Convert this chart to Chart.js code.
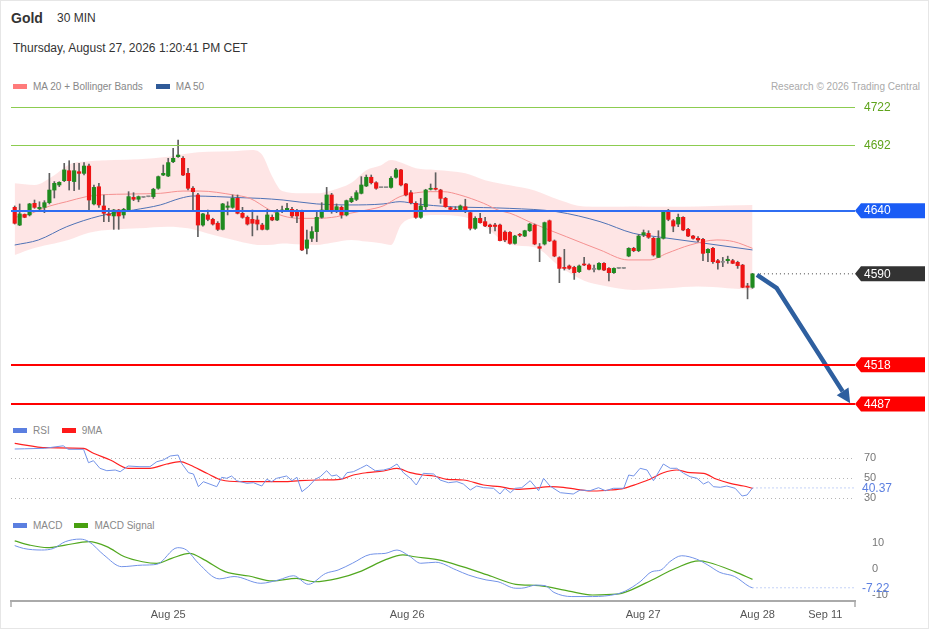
<!DOCTYPE html>
<html>
<head>
<meta charset="utf-8">
<script src="https://cdn.jsdelivr.net/npm/chart.js@4.4.1/dist/chart.umd.min.js"></script>
<style>
html, body { margin: 0; padding: 0; background: #fff; }
#page { position: relative; width: 929px; height: 629px; overflow: hidden; font-family: "Liberation Sans", Arial, sans-serif; }
#frame { position: absolute; left: 0; top: 0; width: 929px; height: 629px; box-sizing: border-box; border: 1px solid #e6e6e6; pointer-events: none; }
.t { position: absolute; white-space: nowrap; line-height: 1; }
.sw { display: inline-block; width: 14px; height: 5px; vertical-align: middle; margin-right: 6px; position: relative; top: -1px; }
canvas { position: absolute; left: 0; }
</style>
</head>
<body>
<div id="page">
  <div class="t" style="left:11px;top:11px;font-size:14px;font-weight:bold;color:#333">Gold</div>
  <div class="t" style="left:57px;top:12px;font-size:12px;color:#333">30 MIN</div>
  <div class="t" style="left:13px;top:42px;font-size:12px;color:#333">Thursday, August 27, 2026 1:20:41 PM CET</div>
  <div class="t" style="left:13px;top:82px;font-size:10px;color:#888"><span class="sw" style="background:#ff7b7b"></span>MA 20 + Bollinger Bands<span class="sw" style="background:#2f5a98;margin-left:13px"></span>MA 50</div>
  <div class="t" style="right:9px;top:82px;font-size:10px;color:#aaa">Research © 2026 Trading Central</div>
  <canvas id="main" width="929" height="320" style="top:95px"></canvas>
  <div class="t" style="left:13px;top:426px;font-size:10px;color:#888"><span class="sw" style="background:#5b7fe0"></span>RSI<span class="sw" style="background:#ff1a1a;margin-left:12px"></span>9MA</div>
  <canvas id="rsi" width="929" height="70" style="top:438px"></canvas>
  <div class="t" style="left:13px;top:521px;font-size:10px;color:#888"><span class="sw" style="background:#5b7fe0"></span>MACD<span class="sw" style="background:#48a010;margin-left:12px"></span>MACD Signal</div>
  <canvas id="macd" width="929" height="99" style="top:530px"></canvas>
  <div id="frame"></div>
</div>
<script>
// candles (30 min bars, index 0..149)
const opens = [
  4642.6,4628.6,4637,4636.6,4645.8,4641.5,4642.6,4646.3,4656.3,4660.3,
  4663.7,4671.6,4663,4670.8,4669.5,4675.3,4645.3,4658.9,4643.7,4637.4,
  4635.8,4640.5,4636.6,4640.5,4650.5,4649,4650.5,4651,4651.1,4657.7,
  4668.2,4667.4,4678.7,4682.7,4681.4,4669.5,4657.7,4652.4,4628.6,4636.6,
  4633.1,4630,4625.2,4642.6,4642.6,4649.7,4637.9,4634.7,4633.1,4632.6,
  4628.6,4625.2,4634.7,4632.6,4639.2,4640.5,4641,4640,4639.2,4610.2,
  4618.1,4623.4,4634.7,4640,4652.4,4640,4642.6,4636.6,4647.1,4648.9,
  4653.7,4659.5,4666.4,4662.1,4658.2,4658.2,4658.4,4666.4,4672.2,4661.1,
  4654.2,4645.8,4634.7,4643.1,4656.9,4657.7,4656.3,4649.7,4642.4,4641,
  4640,4643.1,4638.4,4626,4633.9,4631.3,4628.6,4628.6,4628.6,4623,
  4622.8,4614.1,4620.7,4619.9,4624.1,4628.6,4611.5,4613.6,4632,4616,
  4602.8,4594.5,4596.2,4595.1,4591.7,4597.8,4597,4593.5,4593.6,4598.3,
  4594.3,4590.9,4594.3,4594.3,4604.1,4610.2,4608.3,4620.7,4622,4618.1,
  4603,4618.1,4639.2,4632,4629.4,4634.7,4625.2,4619.9,4618.1,4617.3,
  4606.7,4610.2,4600.4,4599.1,4600.4,4600.4,4599.1,4596.9,4580.4,4579.3
];
const highs = [
  4643.7,4645.3,4637.4,4645.8,4648.4,4647,4647.9,4669.5,4663,4662.9,
  4677.4,4679.5,4677.4,4677.4,4678,4676.9,4660.3,4661.6,4652.4,4641.8,
  4641,4641,4641.8,4655,4654.2,4651.6,4650.5,4651,4657.7,4667.4,
  4676.1,4681.4,4689.3,4695.9,4682.7,4673.5,4659,4653.7,4637.9,4640.5,
  4634,4631.3,4645.8,4647,4652.4,4652.4,4642.6,4635.8,4640.5,4635.8,
  4630,4641,4636.6,4641,4643.7,4645.8,4642.6,4641,4640.5,4624.7,
  4627.3,4639.2,4646.3,4658.4,4653.7,4645.3,4643.7,4648.4,4651.1,4655.8,
  4666.9,4668.2,4668.2,4662.9,4658.2,4658.2,4666.9,4673.5,4672.7,4661.6,
  4655.8,4647.1,4649.7,4656.9,4661.1,4670,4656.9,4650.5,4643.1,4643.1,
  4644.5,4649,4639.2,4635.2,4637.9,4634.7,4629.4,4630,4629.4,4624,
  4623.5,4620.5,4622,4624.5,4630,4629.4,4614,4631,4632.6,4616.8,
  4603.5,4609.4,4597,4596,4597,4603,4598,4597,4599,4599,
  4595,4594.8,4594.3,4594.3,4610.7,4611,4621,4624.7,4624.1,4619,
  4624.1,4639.5,4641,4633,4637.3,4635.2,4626,4620.5,4619.4,4618,
  4610,4611,4601.5,4603,4604,4601.5,4600,4597.5,4582.5,4590.4
];
const lows = [
  4629.4,4628.1,4634.4,4635.8,4641.8,4640.5,4638.4,4645.3,4650,4659,
  4662.9,4656.3,4655.8,4656.8,4668.2,4640.5,4644.5,4642.6,4631.3,4631.3,
  4625.2,4625.2,4634,4639.7,4647.9,4647,4650.5,4651,4649.7,4656.9,
  4667.7,4666.9,4678,4682.2,4667.7,4656.3,4639.2,4619.4,4627.8,4632,
  4628.6,4624.2,4624.7,4636.6,4641.8,4637.4,4634,4628.6,4620,4624.7,
  4624.7,4624.7,4632,4632,4638.4,4639.2,4634.7,4630.5,4608.3,4605.7,
  4615.5,4615.5,4634,4639.2,4637.9,4638.4,4634,4635.8,4646.3,4647.9,
  4653.2,4659,4661.1,4656.9,4658.2,4658.2,4657.7,4665.6,4659.5,4651.6,
  4645.3,4633.9,4633.9,4639.2,4656.3,4656.3,4645.8,4642.6,4640.5,4639.2,
  4639.2,4638.4,4624.7,4625.2,4630,4627.3,4622,4624,4616,4615.5,
  4613.5,4613.5,4619.4,4619.4,4623.5,4613,4599.6,4612.8,4615.5,4603.5,
  4583,4593,4593.5,4585.6,4591,4596.5,4593,4591.5,4593,4592.5,
  4584.3,4590.4,4594.3,4594.3,4603.5,4607.5,4607.5,4619.4,4618,4604,
  4603,4617.5,4632,4623.3,4627.3,4624.1,4619.4,4617.5,4615.5,4600.4,
  4599.6,4598.3,4593.6,4595.7,4598.3,4598,4594.3,4579,4570.2,4578.5
];
const closes = [
  4630,4637.4,4634.7,4645.3,4642.6,4642.6,4646.3,4656.3,4661.6,4662.4,
  4672.2,4663.7,4671.6,4669.5,4675.3,4648.4,4658.4,4644.5,4637.9,4636.3,
  4640.5,4635.8,4641,4651.1,4649,4651.1,4650.5,4651,4656.9,4666.9,
  4669.5,4678,4681.4,4684,4668.2,4657.7,4655,4628.6,4637.4,4633.1,
  4629.4,4625.2,4645.3,4643.7,4649.7,4637.9,4634.7,4629.4,4630,4629.4,
  4625.2,4636.6,4632.6,4638.4,4640.5,4641.8,4635.8,4635.8,4608.9,4616.8,
  4623.4,4634.7,4640.5,4652.4,4639.2,4643.1,4636.6,4647.9,4649.7,4654.2,
  4660.3,4666.4,4662.1,4657.7,4658.2,4658.2,4665.6,4672.2,4660.3,4652.4,
  4646.3,4634.7,4643.7,4656.3,4657.7,4656.9,4649.7,4643.1,4641,4639.7,
  4643.7,4639.2,4626,4633.9,4630.5,4627.9,4627.3,4627.5,4616.3,4616.8,
  4614.1,4619.9,4620.5,4624.1,4629.4,4613.6,4610.2,4630.5,4616,4604.1,
  4594.3,4594.3,4594.3,4590.9,4596.2,4597,4593.6,4593.5,4598.3,4593,
  4590.9,4594.3,4594.3,4594.3,4610.2,4608.3,4619.9,4622.6,4618.9,4604.9,
  4618.1,4639.2,4633.1,4627.8,4634.7,4624.7,4619.9,4618.1,4616.8,4606.2,
  4609.4,4599.6,4598.8,4599.1,4601.5,4598.3,4596.5,4579.3,4579.3,4590
];

// overlays (bar index, price)
const bbAt    = [0,4,8,11,15,20,25,31,35,39,44,48,50,52,54,58,61,64,68,71,74,76,78,81,85,91,95,100,105,110,115,119,125,132,138,144,149];
const bbUpper = [4661.6,4660.3,4668,4676.5,4679,4680,4680.6,4682.7,4685.3,4686.5,4687,4688,4684,4667,4655.5,4653.7,4653.7,4656,4662,4672,4676,4680,4678,4673.5,4672.2,4669.5,4664,4660,4656,4648.4,4643.2,4643,4643.2,4643,4643.2,4644,4644.5];
const bbLower = [4604.9,4610.5,4614,4617,4622.5,4625,4626,4627.3,4626,4622,4617,4613.5,4612.8,4613,4614,4613.2,4612.8,4614.5,4616.8,4615.5,4614.1,4612.8,4628.6,4634.7,4636.6,4634.7,4627,4613,4611,4596,4584.5,4580.5,4577.2,4578.6,4579.9,4578.6,4577.2];
const ma20At  = [0,2.4,7.1,10.5,14.5,17.2,24,29.4,34,37.4,44.2,47.5,51.5,54.2,57.6,61,65,67.7,71.1,74.4,77.8,81.2,83.9,86.6,89.9,94.7,97.9,100,104.6,111.4,118.2,123.9,128.3,131.7,136.4,141.8,145.2,149];
const ma20Val = [4634.7,4636.6,4643.7,4647.1,4651.1,4652.4,4653.2,4653.7,4655.5,4655.5,4652.4,4649.7,4640.5,4635.8,4633.9,4633.9,4635.2,4637.9,4640.5,4643.7,4651.1,4654.2,4655,4655,4652.4,4645.8,4640,4638,4630,4619.4,4608.9,4601,4601,4606.2,4612.8,4616.8,4615.5,4610.2];
const ma50At  = [0,4.8,10.5,17.2,24,29.4,33.4,36.1,40.8,45.5,49.6,54.2,61,67.7,74.4,77.8,81.2,87.9,94.7,100,109.4,118.2,124.9,129.6,138.4,149];
const ma50Val = [4612.8,4616.8,4627.3,4635.8,4640.5,4644.5,4649.7,4651.6,4651.1,4650.3,4649.7,4648.4,4645.3,4644.5,4645.3,4647.1,4645.3,4643.1,4642.4,4641.8,4639.2,4631.3,4622.1,4619.4,4614.7,4608.9];

// key levels and forecast arrow
const resistLevels = [4722, 4692];
const pivotLevels = [4640];
const supportLevels = [4518, 4487];
const arrowAt  = [149.9, 153.9, 167.2];
const arrowVal = [4589.2, 4578.6, 4497];

// RSI panel
const rsiAt  = [0,2,6,9.8,10.8,13.9,14.9,15.9,17.2,18.6,20.3,21.3,22.9,25.3,27.3,28.7,30,31.4,33,33.7,35.1,36.1,37.1,38.1,40.8,41.8,42.8,43.8,44.8,46.9,48.2,49.9,50.9,51.9,52.9,54.9,56,57,58,59.3,60.7,61.7,63,64,65,66.1,67.1,68.4,69.8,71.1,72.8,74.5,75.8,77.2,78.5,79.9,81.1,82.5,84.6,85.9,87.6,89.3,90.6,92,93.3,94.7,96.7,98,99,100.1,101.1,102.4,104.1,105.8,106.8,108.1,110.2,112.8,114.2,116.2,117.9,119.3,120.9,123,124,125,126.3,127.7,129,131,132.4,133.7,135.1,136.4,137.8,139.1,140.1,141.1,142.5,143.8,145.5,146.9,147.9,149];
const rsiVal = [79.3,79.5,80,82.5,79,79,65.6,67.6,60,57.6,58.3,56.6,62.3,61.6,61.6,66.6,68.3,72.3,73.3,65,55.6,54.3,41.6,46.6,41.6,51,50,52.3,47.6,45,45.6,42.3,49,46.6,50,52.3,47.6,51,36.6,41.6,49,51.6,57.6,52.3,53.3,49,55.6,56.6,60,63.3,57.6,58.3,60,64.3,55.6,50,43.3,55,54.3,48.3,45.6,46.6,44.3,38.3,42.3,40.6,40,34.3,40,35.6,40,40.6,47.6,37.6,50,42.3,35.6,34.3,38.3,37.6,40.6,37.6,40,40,53.3,52.3,60,58.3,47.6,64.3,60,60,55,51.6,50,44.3,46.6,41.6,41,42.3,40,32.3,33.3,40.37];
const maAt  = [0,6.5,13.9,15.9,19.3,22.9,27.3,30.7,33.4,35.4,38.8,41.8,45.5,50.9,54.3,57.6,61.7,65.7,68.4,71.1,74.5,77.2,79.9,82.5,84.6,87.3,90.6,94.7,98,101.4,104.7,108.1,110.8,113.5,116.9,120.3,123,125.7,128.3,131,133.7,136.4,139.1,141.8,144.5,147.2,149];
const maVal = [85,80.6,80,75,68.3,60,60,64.3,66.6,63.3,55,48.3,46.6,46.6,46.6,47.6,48.3,49,53.3,55.6,57.3,60,55.6,53.3,52.3,49,48.3,43.3,41.6,39,40,41.6,41,39,37.3,38.3,40,44.3,49,55.6,58.3,55.6,55,49,45,42.3,40];
const rsiTicks = [30, 50, 70];

// MACD panel
const macdAt  = [0,1.8,5.4,7.8,10.2,13.2,15,18,21.6,25.8,28.7,32.9,34.7,37.1,41.3,44.3,49.7,53.3,56.3,59.3,62.8,65.3,68.2,71.8,74.8,77.2,79.6,82,85,89.2,91.6,95.2,97.6,101.2,102.3,105.3,107.1,108.9,112.5,116.7,121.5,123.3,126.3,128.7,130.5,132.3,134.7,137.7,140,142.4,145.4,148.4,149];
const macdVal = [9,7.9,7.3,7.9,10.5,11.5,10.5,5.4,0.9,1.5,1.8,8.2,7.3,2.2,-3.8,-2.9,-5.5,-4.2,-2.6,-5.9,-1.7,-0.4,2.2,5.6,6,7.3,5.1,2.2,2.6,-0.4,-2.3,-4.2,-4.9,-7.4,-7.4,-6.2,-6.4,-9,-10.6,-10.6,-9.7,-8.5,-4.9,-1,-0.4,2.8,5.1,3.8,1.5,-1.3,-2.9,-6.8,-7.22];
const sigAt  = [0,3,6.6,10.2,15,18.6,22.2,25.8,28.7,31.7,35.3,38.3,42.5,47.3,52.1,56.9,60.5,65.3,70,74.8,78.4,80.8,85.6,90.4,96.4,101.2,105.9,111.9,116.7,121.5,123.9,128.7,133.5,138.2,140,145.4,149];
const sigVal = [10.8,9.2,8.2,9.2,10.5,8.6,4.7,2.8,2.2,4.1,6,3.5,-1,-2.7,-4.6,-3.6,-4.9,-3.6,-0.8,3.5,5.4,4.7,3.5,0.9,-2.9,-5.9,-6.4,-8.5,-10,-9.7,-8.5,-4.2,0.3,3.1,2.6,-1,-4];
const macdTicks = [10, 0, -10];

// time axis
const tickAt = [31, 79.25, 126.9, 150, 163.7];
const tickLabels = ['Aug 25', 'Aug 26', 'Aug 27', 'Aug 28', 'Sep 11'];

const X_MIN = -0.75, X_MAX = 169.7;
const FONT = '"Liberation Sans", Arial, sans-serif';
Chart.defaults.font.family = FONT;

const pts = (xs, ys) => xs.map((x, i) => ({ x: x, y: ys[i] }));
const idx = opens.map((_, i) => i);
const lastClose = closes[closes.length - 1];
const bodyColors = opens.map((o, i) => closes[i] > o ? '#1f8a1f' : (closes[i] < o ? '#ee1414' : '#8a8a8a'));

function fixY(s) { s.width = 74; s.paddingTop = 0; s.paddingBottom = 0; }

function common() {
  return {
    responsive: false,
    animation: false,
    layout: { padding: { left: 11, right: 0, top: 0, bottom: 0 } },
    plugins: { legend: { display: false }, tooltip: { enabled: false } },
    elements: { point: { radius: 0 } }
  };
}

// tag with pointed left edge on the right margin
function tag(ctx, area, py, text, fill) {
  const x0 = area.right;
  ctx.fillStyle = fill;
  ctx.beginPath();
  ctx.moveTo(x0, py);
  ctx.lineTo(x0 + 6, py - 7.5);
  ctx.lineTo(925, py - 7.5);
  ctx.lineTo(925, py + 7.5);
  ctx.lineTo(x0 + 6, py + 7.5);
  ctx.closePath();
  ctx.fill();
  ctx.fillStyle = '#fff';
  ctx.font = '12px ' + FONT;
  ctx.textBaseline = 'middle';
  ctx.fillText(text, x0 + 9, py + 0.5);
}

const levelPlugin = {
  id: 'levels',
  afterDatasetsDraw(chart) {
    const { ctx, chartArea: a, scales: { y } } = chart;
    ctx.save();
    const line = (v, color, w) => {
      const py = Math.round(y.getPixelForValue(v)) + (w === 1 ? 0.5 : 0);
      ctx.strokeStyle = color;
      ctx.lineWidth = w;
      ctx.beginPath();
      ctx.moveTo(a.left, py);
      ctx.lineTo(a.right, py);
      ctx.stroke();
    };
    resistLevels.forEach(v => line(v, '#8ccc50', 1));
    pivotLevels.forEach(v => line(v, '#2f6df2', 2));
    supportLevels.forEach(v => line(v, '#ff0000', 2));
    ctx.restore();
  },
  afterDraw(chart) {
    const { ctx, chartArea: a, scales: { y } } = chart;
    ctx.save();
    ctx.font = '12px ' + FONT;
    ctx.textBaseline = 'middle';
    resistLevels.forEach(v => {
      ctx.fillStyle = '#5fa41c';
      ctx.fillText(String(v), a.right + 9, y.getPixelForValue(v) + 0.5);
    });
    pivotLevels.forEach(v => tag(ctx, a, y.getPixelForValue(v), String(v), '#1a5cf5'));
    tag(ctx, a, y.getPixelForValue(lastClose), String(Math.round(lastClose)), '#333333');
    supportLevels.forEach(v => tag(ctx, a, y.getPixelForValue(v), String(v), '#ff0000'));

    // arrow head
    const meta = chart.getDatasetMeta(chart.data.datasets.findIndex(d => d.label === 'arrow'));
    const p = meta.data;
    const p1 = p[p.length - 2], p2 = p[p.length - 1];
    const dx = p2.x - p1.x, dy = p2.y - p1.y, len = Math.hypot(dx, dy);
    const ux = dx / len, uy = dy / len;
    ctx.fillStyle = '#2e5f9f';
    ctx.beginPath();
    ctx.moveTo(p2.x + ux * 14, p2.y + uy * 14);
    ctx.lineTo(p2.x - uy * 7, p2.y + ux * 7);
    ctx.lineTo(p2.x + uy * 7, p2.y - ux * 7);
    ctx.closePath();
    ctx.fill();
    ctx.restore();
  }
};

new Chart(document.getElementById('main'), {
  type: 'bar',
  data: {
    datasets: [
      { type: 'line', label: 'bbUp', data: pts(bbAt, bbUpper), borderWidth: 0, borderColor: 'rgba(0,0,0,0)', fill: '+1', backgroundColor: 'rgba(250,160,160,0.28)', cubicInterpolationMode: 'monotone', order: 20 },
      { type: 'line', label: 'bbLow', data: pts(bbAt, bbLower), borderWidth: 0, borderColor: 'rgba(0,0,0,0)', fill: false, cubicInterpolationMode: 'monotone', order: 21 },
      { type: 'line', label: 'MA 20', data: pts(ma20At, ma20Val), borderColor: '#f59090', borderWidth: 1, fill: false, cubicInterpolationMode: 'monotone', order: 10 },
      { type: 'line', label: 'MA 50', data: pts(ma50At, ma50Val), borderColor: '#4f72b5', borderWidth: 1, fill: false, cubicInterpolationMode: 'monotone', order: 10 },
      { label: 'wick', data: idx.map(i => ({ x: i, y: [lows[i], highs[i]] })), backgroundColor: '#5f5f5f', barThickness: 1, grouped: false, order: 5 },
      { label: 'body', data: idx.map(i => ({ x: i, y: [opens[i], closes[i]] })), backgroundColor: bodyColors, barThickness: 3.5, minBarLength: 1, grouped: false, order: 4 },
      { type: 'line', label: 'last', data: [{ x: 150.5, y: lastClose }, { x: X_MAX, y: lastClose }], borderColor: '#444', borderWidth: 1, borderDash: [1, 3], fill: false, order: 3 },
      { type: 'line', label: 'arrow', data: pts(arrowAt, arrowVal), borderColor: '#2e5f9f', borderWidth: 4.5, borderJoinStyle: 'round', fill: false, order: 0 }
    ]
  },
  options: Object.assign(common(), {
    scales: {
      x: { type: 'linear', min: X_MIN, max: X_MAX, offset: false, display: false },
      y: { position: 'right', min: 4478.3, max: 4731.5, afterFit: fixY,
           ticks: { display: false }, grid: { display: false }, border: { display: false } }
    }
  }),
  plugins: [levelPlugin]
});

function valueTagPlugin(id, value, text, color) {
  return {
    id: id,
    afterDraw(chart) {
      const { ctx, chartArea: a, scales: { y } } = chart;
      ctx.save();
      ctx.fillStyle = color;
      ctx.font = '12px ' + FONT;
      ctx.textBaseline = 'middle';
      ctx.fillText(text, a.right + 7, y.getPixelForValue(value) + 0.5);
      ctx.restore();
    }
  };
}

const lastRsi = rsiVal[rsiVal.length - 1];
new Chart(document.getElementById('rsi'), {
  type: 'line',
  data: {
    datasets: [
      { label: 'RSI', data: pts(rsiAt, rsiVal), borderColor: '#7393e8', borderWidth: 1, fill: false },
      { label: '9MA', data: pts(maAt, maVal), borderColor: '#ff2020', borderWidth: 1.2, fill: false, cubicInterpolationMode: 'monotone' },
      { label: 'ext', data: [{ x: rsiAt[rsiAt.length - 1], y: lastRsi }, { x: X_MAX, y: lastRsi }], borderColor: '#8aa6ee', borderWidth: 1, borderDash: [1, 3], fill: false }
    ]
  },
  options: Object.assign(common(), {
    scales: {
      x: { type: 'linear', min: X_MIN, max: X_MAX, display: false },
      y: { position: 'right', min: 20.3, max: 90.3, afterFit: fixY,
           afterBuildTicks: s => { s.ticks = rsiTicks.map(v => ({ value: v })); },
           grid: { color: '#b5b5b5', drawTicks: false, lineWidth: 1 },
           border: { display: false, dash: [1, 3] },
           ticks: { color: '#777', padding: 9, font: { size: 11 } } }
    }
  }),
  plugins: [valueTagPlugin('rsiTag', lastRsi, lastRsi.toFixed(2), '#5b7fe0')]
});

const lastMacd = macdVal[macdVal.length - 1];
const axisEnds = {
  id: 'axisEnds',
  afterDraw(chart) {
    const { ctx, chartArea: a } = chart;
    ctx.save();
    ctx.strokeStyle = '#aaa';
    ctx.lineWidth = 1.5;
    ctx.beginPath();
    ctx.moveTo(a.left, a.bottom); ctx.lineTo(a.left, a.bottom + 6);
    ctx.moveTo(a.right, a.bottom); ctx.lineTo(a.right, a.bottom + 6);
    ctx.stroke();
    ctx.restore();
  }
};
new Chart(document.getElementById('macd'), {
  type: 'line',
  data: {
    datasets: [
      { label: 'MACD', data: pts(macdAt, macdVal), borderColor: '#7393e8', borderWidth: 1, fill: false, cubicInterpolationMode: 'monotone' },
      { label: 'MACD Signal', data: pts(sigAt, sigVal), borderColor: '#52a820', borderWidth: 1.2, fill: false, cubicInterpolationMode: 'monotone' },
      { label: 'ext', data: [{ x: macdAt[macdAt.length - 1], y: lastMacd }, { x: X_MAX, y: lastMacd }], borderColor: '#8aa6ee', borderWidth: 1, borderDash: [1, 3], fill: false }
    ]
  },
  options: Object.assign(common(), {
    scales: {
      x: { type: 'linear', min: X_MIN, max: X_MAX,
           afterBuildTicks: s => { s.ticks = tickAt.map(v => ({ value: v })); },
           afterFit: s => { s.height = 28; s.paddingLeft = 0; s.paddingRight = 0; },
           grid: { display: false, drawTicks: false },
           border: { display: true, color: '#aaa', width: 2 },
           ticks: { autoSkip: false, maxRotation: 0, color: '#555', padding: 7, font: { size: 11 },
                    callback: (v, i) => tickLabels[i] } },
      y: { position: 'right', min: -12.31, max: 15, afterFit: fixY,
           afterBuildTicks: s => { s.ticks = macdTicks.map(v => ({ value: v })); },
           grid: { display: false }, border: { display: false },
           ticks: { color: '#777', padding: 9, font: { size: 11 } } }
    }
  }),
  plugins: [axisEnds, valueTagPlugin('macdTag', lastMacd, lastMacd.toFixed(2), '#5b7fe0')]
});
</script>
</body>
</html>
